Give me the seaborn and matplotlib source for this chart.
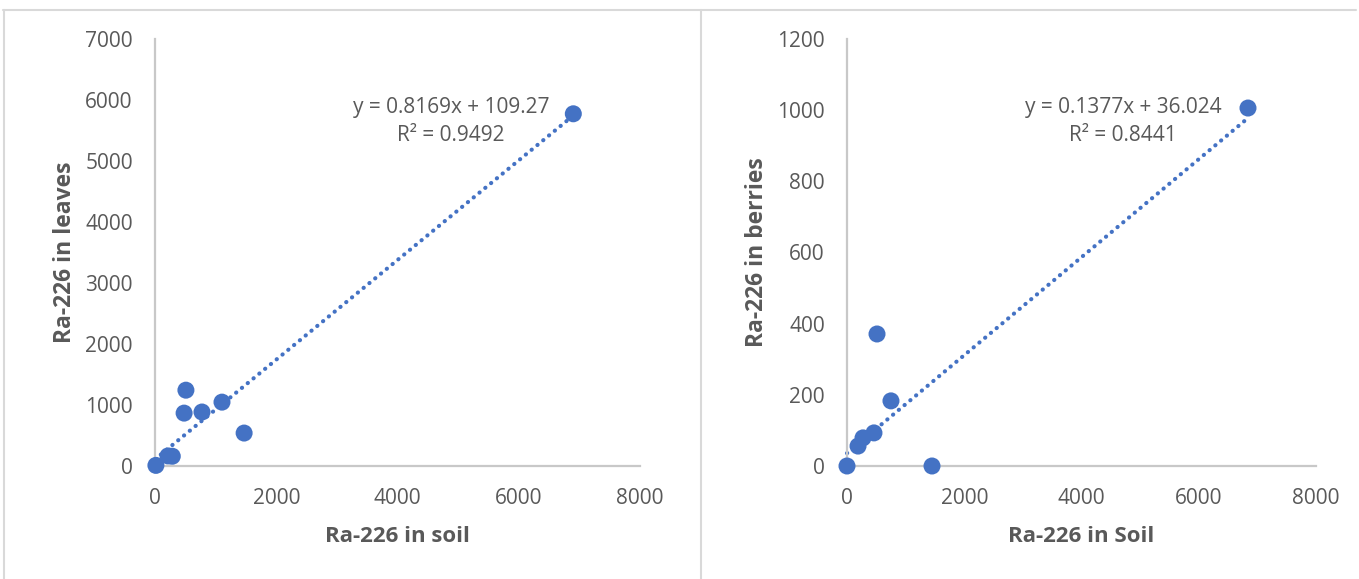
import numpy as np
import pandas as pd
import matplotlib
matplotlib.use("Agg")
import matplotlib.pyplot as plt
from matplotlib.lines import Line2D
import seaborn as sns

# ---- data ----
soil_leaves = [15, 215, 285, 480, 510, 775, 1105, 1470, 6900]
leaves = [10, 165, 160, 867, 1243, 885, 1047, 540, 5774]

soil_berries = [0, 188, 273, 460, 512, 750, 1450, 6840]
berries = [0, 56, 79, 93, 371, 183, 0, 1006]

trend_leaves = (0.8169, 109.27)
trend_berries = (0.1377, 36.024)
eq_leaves = ["y = 0.8169x + 109.27", "R² = 0.9492"]
eq_berries = ["y = 0.1377x + 36.024", "R² = 0.8441"]

xticks = [0, 2000, 4000, 6000, 8000]
yticks_leaves = [0, 1000, 2000, 3000, 4000, 5000, 6000, 7000]
yticks_berries = [0, 200, 400, 600, 800, 1000, 1200]

labels_leaves = ("Ra-226 in soil", "Ra-226 in leaves")
labels_berries = ("Ra-226 in Soil", "Ra-226 in berries")

# ---- style ----
sns.set_theme(style="white")
plt.rcParams["font.family"] = ["Open Sans", "DejaVu Sans"]

BLUE = "#4472C4"
TXT = "#595959"
AXC = "#C8C8C8"
W, H = 1359, 579
fig = plt.figure(figsize=(W / 100, H / 100), dpi=100)
fig.patch.set_facecolor("white")


def px_axes(x0, x1, ytop, ybot):
    return fig.add_axes([x0 / W, (H - ybot) / H, (x1 - x0) / W, (ybot - ytop) / H])


def panel(ax, xs, ys, trend, eq, yticks, labels, eq_x):
    df = pd.DataFrame({"x": xs, "y": ys})
    xmax = max(xs)
    tl = pd.DataFrame({"x": [0, xmax], "y": [trend[1], trend[0] * xmax + trend[1]]})
    sns.lineplot(data=tl, x="x", y="y", ax=ax, color=BLUE, lw=3.0,
                 linestyle=(0, (0.05, 1.75)), dash_capstyle="round", clip_on=False,
                 zorder=2)
    sns.scatterplot(data=df, x="x", y="y", ax=ax, color=BLUE, s=150,
                    edgecolor="none", linewidth=0, clip_on=False, zorder=3)
    ax.set_xlim(0, 8000)
    ax.set_ylim(0, yticks[-1])
    ax.set_xticks(xticks)
    ax.set_yticks(yticks)
    ax.tick_params(axis="both", length=0, labelsize=15, colors=TXT)
    ax.tick_params(axis="x", pad=16)
    ax.tick_params(axis="y", pad=16)
    for s in ["top", "right"]:
        ax.spines[s].set_visible(False)
    for s in ["left", "bottom"]:
        ax.spines[s].set_color(AXC)
        ax.spines[s].set_linewidth(1.6)
    ax.set_xlabel(labels[0], fontsize=16, fontweight="bold", color=TXT, labelpad=12)
    ax.set_ylabel(labels[1], fontsize=16.5, fontweight="bold", color=TXT, labelpad=6)
    ax.text(eq_x, 0.84, eq[0], transform=ax.transAxes, ha="center", va="center",
            fontsize=15, color=TXT)
    ax.text(eq_x, 0.775, eq[1], transform=ax.transAxes, ha="center", va="center",
            fontsize=15, color=TXT)


ax1 = px_axes(155, 640, 39, 466)
ax2 = px_axes(847, 1316, 39, 466)
panel(ax1, soil_leaves, leaves, trend_leaves, eq_leaves, yticks_leaves,
      labels_leaves, (451 - 155) / (640 - 155))
panel(ax2, soil_berries, berries, trend_berries, eq_berries, yticks_berries,
      labels_berries, (1123 - 847) / (1316 - 847))

# chart frame lines
GR = "#D9D9D9"
fig.add_artist(Line2D([3 / W, 1 - 3 / W], [1 - 9.5 / H, 1 - 9.5 / H], color=GR, lw=1.5))
fig.add_artist(Line2D([3.5 / W, 3.5 / W], [0, 1 - 9.5 / H], color=GR, lw=1.5))
fig.add_artist(Line2D([700.5 / W, 700.5 / W], [0, 1 - 9.5 / H], color=GR, lw=1.5))

fig.savefig("out.png", dpi=100, facecolor="white")
